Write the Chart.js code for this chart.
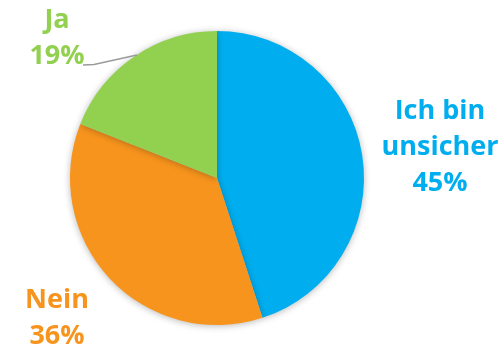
<!DOCTYPE html>
<html>
<head>
<meta charset="utf-8">
<script src="https://cdn.jsdelivr.net/npm/chart.js@4/dist/chart.umd.min.js"></script>
<style>
  html, body { margin: 0; padding: 0; background: #fff; }
  #wrap { width: 502px; height: 347px; position: relative; }
</style>
</head>
<body>
<div id="wrap"><canvas id="pieChart" width="502" height="347"></canvas></div>
<script>
// Umfrage-Antworten
const answers = ["Ich bin unsicher", "Nein", "Ja"];
const shares = [45, 36, 19];
const sliceColors = ["#00aeef", "#f7941d", "#92d050"];

// label text lines + position of each label block (centre x, first line y)
const labelLines = [["Ich bin", "unsicher"], ["Nein"], ["Ja"]];
const labelPos = [
  { x: 440, y: 111 },
  { x: 57, y: 300 },
  { x: 57, y: 20 }
];

const shadowPlugin = {
  id: 'pieShadow',
  beforeDatasetDraw(chart) {
    const ctx = chart.ctx;
    ctx.save();
    ctx.shadowColor = 'rgba(0,0,0,0.28)';
    ctx.shadowBlur = 7;
    ctx.shadowOffsetX = 0;
    ctx.shadowOffsetY = 1;
  },
  afterDatasetDraw(chart) {
    chart.ctx.restore();
  }
};

const labelPlugin = {
  id: 'sliceLabels',
  afterDraw(chart) {
    const ctx = chart.ctx;
    const data = chart.data.datasets[0].data;
    ctx.save();
    ctx.font = 'bold 27px "Open Sans", sans-serif';
    ctx.textAlign = 'center';
    ctx.textBaseline = 'middle';
    data.forEach((v, i) => {
      const lines = labelLines[i].concat([v + '%']);
      ctx.fillStyle = sliceColors[i];
      lines.forEach((t, j) => {
        ctx.fillText(t, labelPos[i].x, labelPos[i].y + j * 36);
      });
    });
    // leader line for the small slice
    ctx.strokeStyle = '#9a9a9a';
    ctx.lineWidth = 1.5;
    ctx.beginPath();
    ctx.moveTo(83, 65);
    ctx.lineTo(94, 64.5);
    ctx.lineTo(137, 55);
    ctx.stroke();
    ctx.restore();
  }
};

new Chart(document.getElementById('pieChart'), {
  type: 'pie',
  data: {
    labels: answers,
    datasets: [{
      data: shares,
      backgroundColor: sliceColors,
      borderWidth: 0
    }]
  },
  options: {
    responsive: false,
    animation: false,
    layout: { padding: { top: 31, bottom: 22, left: 70, right: 138 } },
    plugins: {
      legend: { display: false },
      tooltip: { enabled: false }
    }
  },
  plugins: [shadowPlugin, labelPlugin]
});
</script>
</body>
</html>
